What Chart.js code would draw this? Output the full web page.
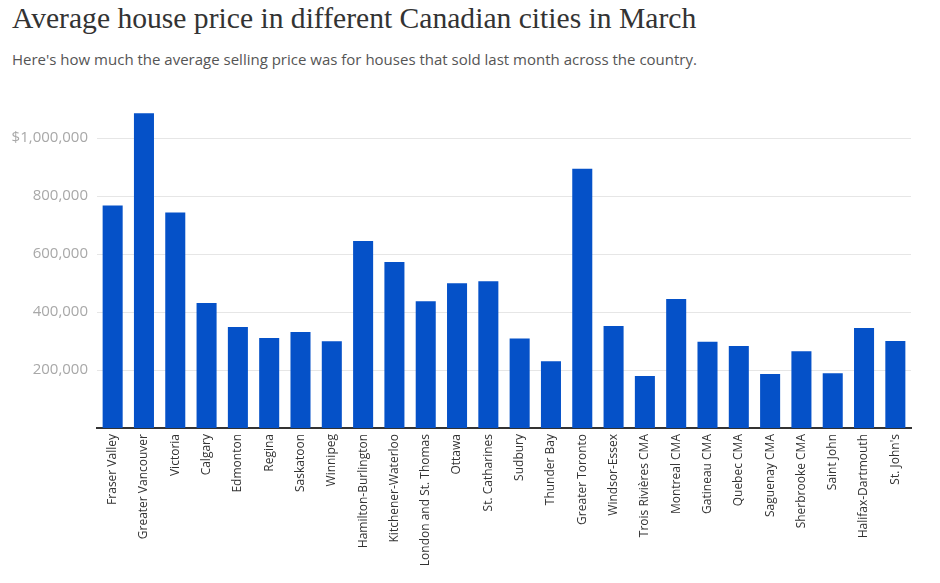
<!DOCTYPE html>
<html>
<head>
<meta charset="utf-8">
<script src="https://cdn.jsdelivr.net/npm/chart.js@4"></script>
<style>
  body { margin: 0; background: #fff; }
  #wrap { position: relative; width: 940px; height: 583px; overflow: hidden; }
  #titulo {
    position: absolute; left: 12px; top: 4px; margin: 0; font-weight: normal;
    font: 29.6px/28px "Liberation Serif", serif; color: #333; white-space: nowrap;
  }
  #subtitulo {
    position: absolute; left: 12px; top: 52px; margin: 0;
    font: 15px/15px "Open Sans", sans-serif; color: #555; white-space: nowrap;
  }
  #grafico { position: absolute; left: 0; top: 0; }
</style>
</head>
<body>
<div id="wrap">
  <h1 id="titulo">Average house price in different Canadian cities in March</h1>
  <p id="subtitulo">Here's how much the average selling price was for houses that sold last month across the country.</p>
  <canvas id="grafico" width="940" height="583"></canvas>
</div>
<script>
// Datos
const ciudades = [
  "Fraser Valley", "Greater Vancouver", "Victoria", "Calgary", "Edmonton",
  "Regina", "Saskatoon", "Winnipeg", "Hamilton-Burlington", "Kitchener-Waterloo",
  "London and St. Thomas", "Ottawa", "St. Catharines", "Sudbury", "Thunder Bay",
  "Greater Toronto", "Windsor-Essex", "Trois Rivières CMA", "Montreal CMA", "Gatineau CMA",
  "Quebec CMA", "Saguenay CMA", "Sherbrooke CMA", "Saint John", "Halifax-Dartmouth",
  "St. John's"
];
const precios = [
  767000, 1085000, 743000, 431000, 348000,
  310000, 331000, 299000, 645000, 572000,
  437000, 499000, 506000, 309000, 230000,
  894000, 352000, 179000, 445000, 297000,
  283000, 186000, 265000, 189000, 345000,
  300000
];
const marcasY = [200000, 400000, 600000, 800000, 1000000];

function etiquetaY(valor) {
  const texto = valor.toLocaleString("en-US");
  return valor === 1000000 ? "$" + texto : texto;
}

const ctx = document.getElementById("grafico");

new Chart(ctx, {
  type: "bar",
  data: {
    labels: ciudades,
    datasets: [
      {
        label: "Average price",
        data: precios,
        backgroundColor: "#0551c8",
        borderWidth: 0,
        barPercentage: 0.64,
        categoryPercentage: 1,
      },
    ],
  },
  options: {
    responsive: false,
    animation: false,
    layout: {
      padding: { top: 109, right: 29, bottom: 0, left: 0 },
    },
    plugins: {
      legend: { display: false },
      tooltip: { enabled: false },
    },
    scales: {
      x: {
        grid: { display: false, drawTicks: false },
        border: { display: true, color: "#333", width: 2 },
        ticks: {
          autoSkip: false,
          minRotation: 90,
          maxRotation: 90,
          padding: 6,
          color: "#333",
          font: { family: "Open Sans", size: 12 },
        },
        afterFit: (escala) => { escala.height = 155; },
      },
      y: {
        min: 0,
        max: 1100000,
        grid: { color: "#e6e6e6", lineWidth: 1, drawTicks: false },
        border: { display: false },
        ticks: {
          padding: 9,
          color: "#a8a8a8",
          font: { family: "Open Sans", size: 15 },
          callback: (valor) => etiquetaY(valor),
        },
        afterBuildTicks: (escala) => {
          escala.ticks = marcasY.map((v) => ({ value: v }));
        },
        afterFit: (escala) => { escala.width = 97; },
      },
    },
  },
});
</script>
</body>
</html>
